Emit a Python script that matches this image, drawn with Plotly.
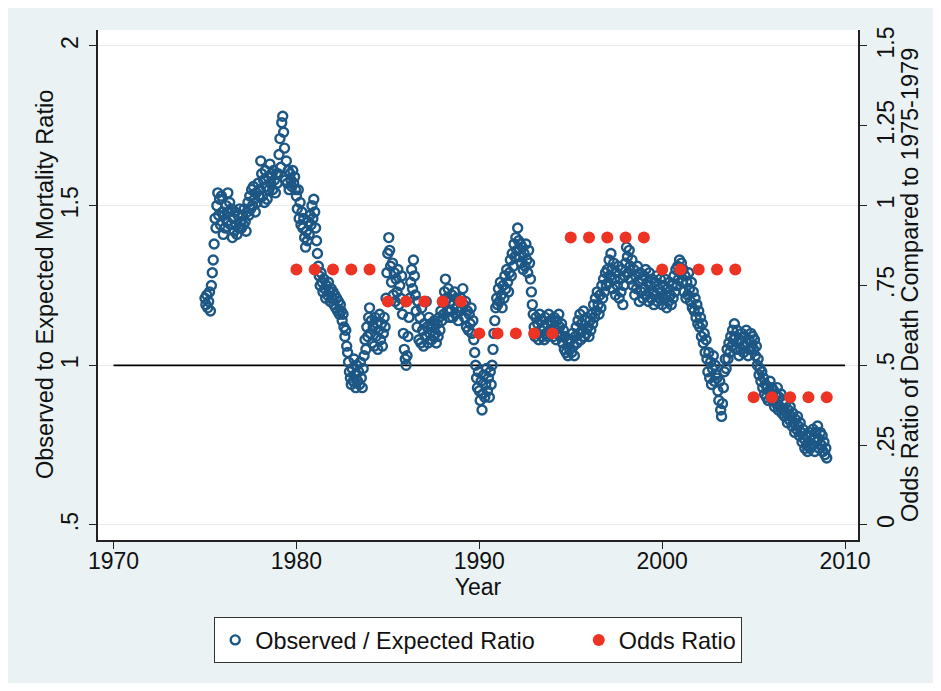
import plotly.graph_objects as go

# ---------------- data ----------------
# Observed / expected mortality ratio, 20 readings per calendar year
obs_first_year = 1975
obs_by_year = [
    [1.21, 1.19, 1.22, 1.18, 1.20, 1.23, 1.17, 1.25, 1.29, 1.33, 1.38, 1.46, 1.43, 1.50, 1.54, 1.47, 1.52, 1.44, 1.53, 1.48],  # 1975
    [1.41, 1.47, 1.43, 1.50, 1.45, 1.54, 1.48, 1.51, 1.44, 1.49, 1.40, 1.46, 1.42, 1.48, 1.44, 1.41, 1.47, 1.43, 1.49, 1.45],  # 1976
    [1.43, 1.47, 1.44, 1.49, 1.45, 1.42, 1.48, 1.51, 1.47, 1.53, 1.49, 1.55, 1.50, 1.56, 1.52, 1.48, 1.54, 1.51, 1.57, 1.53],  # 1977
    [1.55, 1.64, 1.60, 1.53, 1.58, 1.51, 1.61, 1.56, 1.52, 1.59, 1.55, 1.63, 1.57, 1.60, 1.55, 1.61, 1.58, 1.54, 1.60, 1.57],  # 1978
    [1.60, 1.66, 1.71, 1.62, 1.76, 1.78, 1.73, 1.68, 1.58, 1.64, 1.57, 1.61, 1.55, 1.60, 1.58, 1.56, 1.61, 1.57, 1.59, 1.55],  # 1979
    [1.53, 1.49, 1.55, 1.46, 1.51, 1.44, 1.48, 1.43, 1.46, 1.40, 1.37, 1.42, 1.39, 1.45, 1.41, 1.47, 1.44, 1.50, 1.46, 1.52],  # 1980
    [1.48, 1.43, 1.39, 1.35, 1.31, 1.28, 1.25, 1.29, 1.26, 1.23, 1.27, 1.24, 1.21, 1.25, 1.22, 1.26, 1.23, 1.20, 1.24, 1.21],  # 1981
    [1.23, 1.19, 1.22, 1.18, 1.21, 1.17, 1.20, 1.16, 1.19, 1.17, 1.14, 1.16, 1.12, 1.09, 1.11, 1.06, 1.04, 1.01, 0.98, 0.96],  # 1982
    [0.94, 0.99, 0.95, 1.02, 0.97, 0.93, 1.00, 0.95, 0.98, 0.94, 1.01, 0.96, 0.93, 0.99, 1.03, 1.08, 1.05, 1.12, 1.09, 1.15],  # 1983
    [1.18, 1.10, 1.14, 1.07, 1.12, 1.06, 1.15, 1.09, 1.13, 1.05, 1.11, 1.16, 1.08, 1.13, 1.06, 1.10, 1.15, 1.12, 1.21, 1.29],  # 1984
    [1.35, 1.40, 1.36, 1.31, 1.26, 1.32, 1.22, 1.29, 1.20, 1.27, 1.23, 1.30, 1.19, 1.25, 1.21, 1.28, 1.16, 1.10, 1.05, 1.02],  # 1985
    [1.00, 1.03, 1.09, 1.15, 1.21, 1.26, 1.30, 1.24, 1.33, 1.28, 1.22, 1.17, 1.12, 1.20, 1.08, 1.15, 1.07, 1.18, 1.11, 1.06],  # 1986
    [1.13, 1.09, 1.20, 1.12, 1.07, 1.15, 1.10, 1.13, 1.08, 1.12, 1.09, 1.14, 1.10, 1.07, 1.13, 1.09, 1.15, 1.11, 1.17, 1.14],  # 1987
    [1.20, 1.16, 1.23, 1.27, 1.21, 1.17, 1.24, 1.15, 1.20, 1.17, 1.22, 1.15, 1.19, 1.23, 1.16, 1.21, 1.18, 1.14, 1.20, 1.17],  # 1988
    [1.21, 1.18, 1.24, 1.19, 1.15, 1.20, 1.12, 1.17, 1.11, 1.16, 1.13, 1.18, 1.10, 1.14, 1.08, 1.04, 1.00, 0.96, 0.93, 0.98],  # 1989
    [0.92, 0.89, 0.95, 0.86, 0.91, 0.97, 0.90, 0.94, 0.99, 0.92, 0.96, 0.90, 0.98, 0.94, 1.00, 1.05, 1.10, 1.14, 1.18, 1.21],  # 1990
    [1.19, 1.24, 1.20, 1.26, 1.22, 1.18, 1.25, 1.21, 1.28, 1.24, 1.30, 1.26, 1.23, 1.29, 1.33, 1.28, 1.35, 1.31, 1.38, 1.34],  # 1991
    [1.40, 1.36, 1.43, 1.39, 1.34, 1.38, 1.32, 1.37, 1.30, 1.35, 1.31, 1.38, 1.33, 1.29, 1.36, 1.32, 1.27, 1.23, 1.19, 1.16],  # 1992
    [1.12, 1.09, 1.15, 1.10, 1.13, 1.08, 1.16, 1.11, 1.14, 1.09, 1.12, 1.08, 1.15, 1.10, 1.13, 1.09, 1.16, 1.11, 1.14, 1.10],  # 1993
    [1.13, 1.09, 1.15, 1.11, 1.08, 1.14, 1.10, 1.16, 1.12, 1.09, 1.13, 1.07, 1.11, 1.05, 1.09, 1.04, 1.08, 1.03, 1.07, 1.05],  # 1994
    [1.08, 1.04, 1.10, 1.06, 1.03, 1.09, 1.12, 1.07, 1.14, 1.10, 1.16, 1.08, 1.13, 1.11, 1.17, 1.09, 1.14, 1.10, 1.15, 1.12],  # 1995
    [1.09, 1.14, 1.11, 1.16, 1.13, 1.19, 1.15, 1.21, 1.17, 1.23, 1.19, 1.16, 1.22, 1.18, 1.25, 1.21, 1.27, 1.23, 1.29, 1.25],  # 1996
    [1.30, 1.26, 1.33, 1.28, 1.35, 1.30, 1.24, 1.32, 1.27, 1.22, 1.29, 1.25, 1.31, 1.21, 1.27, 1.23, 1.30, 1.19, 1.25, 1.28],  # 1997
    [1.32, 1.37, 1.34, 1.29, 1.36, 1.31, 1.27, 1.33, 1.25, 1.30, 1.22, 1.28, 1.24, 1.31, 1.26, 1.20, 1.29, 1.23, 1.27, 1.21],  # 1998
    [1.28, 1.24, 1.30, 1.22, 1.26, 1.20, 1.29, 1.25, 1.21, 1.27, 1.23, 1.19, 1.26, 1.22, 1.28, 1.20, 1.24, 1.21, 1.27, 1.23],  # 1999
    [1.19, 1.25, 1.21, 1.27, 1.22, 1.18, 1.24, 1.20, 1.26, 1.22, 1.19, 1.25, 1.21, 1.28, 1.23, 1.30, 1.25, 1.31, 1.27, 1.33],  # 2000
    [1.29, 1.32, 1.26, 1.30, 1.23, 1.28, 1.21, 1.26, 1.22, 1.29, 1.24, 1.20, 1.26, 1.18, 1.23, 1.17, 1.21, 1.15, 1.19, 1.13],  # 2001
    [1.17, 1.12, 1.15, 1.09, 1.13, 1.07, 1.10, 1.04, 1.08, 1.02, 0.98, 1.04, 0.96, 1.01, 0.94, 0.99, 1.03, 0.95, 1.00, 0.97],  # 2002
    [0.96, 0.92, 0.89, 0.95, 0.86, 0.84, 0.88, 0.93, 0.98, 1.02, 0.99, 1.05, 1.02, 1.07, 1.04, 1.09, 1.06, 1.11, 1.08, 1.13],  # 2003
    [1.09, 1.05, 1.11, 1.07, 1.03, 1.08, 1.05, 1.10, 1.06, 1.04, 1.09, 1.06, 1.11, 1.07, 1.03, 1.08, 1.05, 1.10, 1.06, 1.09],  # 2004
    [1.05, 1.08, 1.03, 1.06, 1.00, 1.02, 0.97, 0.99, 0.95, 0.98, 0.93, 0.96, 0.91, 0.94, 0.90, 0.93, 0.89, 0.92, 0.95, 0.90],  # 2005
    [0.93, 0.89, 0.92, 0.87, 0.91, 0.88, 0.93, 0.86, 0.90, 0.87, 0.91, 0.85, 0.89, 0.86, 0.84, 0.88, 0.85, 0.82, 0.86, 0.83],  # 2006
    [0.87, 0.84, 0.81, 0.85, 0.82, 0.79, 0.83, 0.80, 0.84, 0.81, 0.78, 0.82, 0.79, 0.76, 0.80, 0.77, 0.74, 0.78, 0.75, 0.73],  # 2007
    [0.76, 0.79, 0.74, 0.78, 0.75, 0.80, 0.77, 0.73, 0.79, 0.76, 0.81, 0.77, 0.74, 0.79, 0.75, 0.78, 0.73, 0.76, 0.72, 0.74],  # 2008
    [0.71],  # 2009
]

odds_years = list(range(1980, 2010))
odds_ratio = ([0.8] * 5 + [0.7] * 5 + [0.6] * 5 +
              [0.9] * 5 + [0.8] * 5 + [0.4] * 5)

ref_x = [1970, 2010]
ref_y = [1, 1]

x_ticks = [1970, 1980, 1990, 2000, 2010]
y_ticks = [0.5, 1, 1.5, 2]
y_tick_text = [".5", "1", "1.5", "2"]
y2_ticks = [0, 0.25, 0.5, 0.75, 1, 1.25, 1.5]
y2_tick_text = ["0", ".25", ".5", ".75", "1", "1.25", "1.5"]

# flatten the yearly readings into a time series
obs_years, obs_ratio = [], []
for i, row in enumerate(obs_by_year):
    yr = obs_first_year + i
    for k, v in enumerate(row):
        obs_years.append(yr + k / 20)
        obs_ratio.append(v)

# ---------------- styling ----------------
FONT = "Liberation Sans, Arial, Helvetica, sans-serif"
BLUE = "#1d5785"
RED = "#ec3324"
BG = "#EAF2F3"
AX = "#222222"
NB = "\u00a0"

OFF = 8                      # page body margin of the html page
W, H = 941 - 2 * OFF, 691 - 2 * OFF
ML = 98 - OFF                # plot left edge on screen: 98
MT = 30 - OFF                # plot top edge on screen: 30
MR = W - (858 - OFF)         # plot right edge on screen: 858
MB = H - (540 - OFF)         # plot bottom edge on screen: 540
pw, ph = W - ML - MR, H - MT - MB


def sx(px):
    """screen x pixel -> paper coordinate"""
    return (px - OFF - ML) / pw


def sy(py):
    """screen y pixel -> paper coordinate"""
    return (H - MB - (py - OFF)) / ph


fig = go.Figure()

fig.add_trace(go.Scatter(
    x=ref_x, y=ref_y, mode="lines",
    line=dict(color="black", width=1.8),
    showlegend=False, hoverinfo="skip",
))

fig.add_trace(go.Scatter(
    x=obs_years, y=obs_ratio, mode="markers",
    name="Observed / Expected Ratio" + NB * 6,
    marker=dict(symbol="circle-open", size=9, color=BLUE,
                line=dict(width=2.4, color=BLUE)),
))

fig.add_trace(go.Scatter(
    x=odds_years, y=odds_ratio, mode="markers", yaxis="y2",
    name="Odds Ratio",
    marker=dict(symbol="circle", size=12, color=RED),
))

annotations = [
    dict(text="Observed to Expected Mortality Ratio", textangle=-90,
         xref="paper", yref="paper", x=sx(45), y=sy(285),
         xanchor="center", yanchor="middle", showarrow=False,
         font=dict(family=FONT, size=23.5, color="#111111")),
    dict(text="Odds Ratio of Death Compared to 1975-1979", textangle=-90,
         xref="paper", yref="paper", x=sx(910), y=sy(285),
         xanchor="center", yanchor="middle", showarrow=False,
         font=dict(family=FONT, size=23.5, color="#111111")),
]

fig.update_layout(
    width=W, height=H,
    margin=dict(l=ML, r=MR, t=MT, b=MB, pad=0, autoexpand=False),
    paper_bgcolor=BG, plot_bgcolor="white",
    font=dict(family=FONT, size=23, color="#111111"),
    annotations=annotations,
    showlegend=True,
    legend=dict(
        orientation="h", x=0.5, xanchor="center",
        y=sy(617), yanchor="top",
        bgcolor="white", bordercolor="#333333", borderwidth=1.2,
        font=dict(family=FONT, size=23.4, color="#111111"),
        itemsizing="trace",
    ),
    xaxis=dict(
        range=[1969.15, 2010.71], tickvals=x_ticks,
        showgrid=False, zeroline=False, automargin=False,
        showline=True, linecolor=AX, linewidth=1.5, mirror=False,
        ticks="outside", ticklen=7, tickwidth=1.3, tickcolor=AX,
        ticklabelstandoff=-7,
        title=dict(text="Year", standoff=6, font=dict(size=23)),
    ),
    yaxis=dict(
        range=[0.453, 2.050], tickvals=y_ticks, ticktext=y_tick_text,
        tickangle=-90, automargin=False,
        showgrid=True, gridcolor="#e6ecee", gridwidth=1, zeroline=False,
        showline=True, linecolor=AX, linewidth=1.5,
        ticks="outside", ticklen=7, tickwidth=1.3, tickcolor=AX,
        ticklabelstandoff=2,
    ),
    yaxis2=dict(
        overlaying="y", side="right", automargin=False,
        range=[0.453 - 0.5, 2.050 - 0.5], tickvals=y2_ticks,
        ticktext=y2_tick_text, tickangle=-90,
        showgrid=False, zeroline=False,
        showline=True, linecolor=AX, linewidth=1.5,
        ticks="outside", ticklen=7, tickwidth=1.3, tickcolor=AX,
        ticklabelstandoff=0,
    ),
)

fig.write_html("out.html")
